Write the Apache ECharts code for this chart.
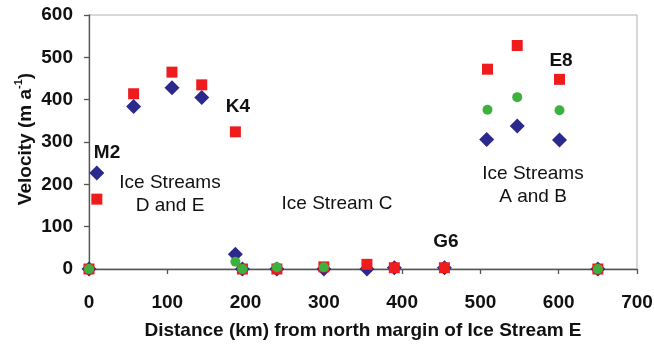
<!DOCTYPE html>
<html>
<head>
<meta charset="utf-8">
<script src="https://cdn.jsdelivr.net/npm/echarts@6/dist/echarts.min.js"></script>
<style>html,body{margin:0;padding:0;background:#fff}#c{width:654px;height:344px}</style>
</head>
<body>
<div id="c"></div>
<script>
const xTicks = [0, 100, 200, 300, 400, 500, 600, 700];
const yTicks = [0, 100, 200, 300, 400, 500, 600];

const blueX = [0, 10, 57, 106, 144, 187, 196, 240, 300, 355, 390, 454, 508, 547, 601, 650];
const blueY = [0, 227, 384, 428, 405, 35, 0, 0, 0, 0, 3, 3, 306, 338, 305, 0];

const redX = [0, 10, 57, 106, 144, 187, 196, 240, 300, 355, 390, 454, 509, 547, 601, 650];
const redY = [0, 165, 414, 465, 435, 324, 0, 0, 5, 11, 3, 3, 472, 528, 448, 0];

const greenX = [0, 187, 196, 240, 300, 509, 547, 601, 650];
const greenY = [0, 17, 0, 4, 4, 376, 406, 375, 0];

const xTitle = 'Distance (km) from north margin of Ice Stream E';

function pairs(xs, ys) { return xs.map((x, i) => [x, ys[i]]); }

const chart = echarts.init(document.getElementById('c'));
const F = 'Liberation Sans, Arial, sans-serif';
const grid = { left: 89, right: 17, top: 15, bottom: 75 };

chart.setOption({
  animation: false,
  grid: Object.assign({ show: true, borderColor: '#b0b0b0', borderWidth: 1, containLabel: false, outerBoundsMode: 'none' }, grid),
  xAxis: {
    type: 'value', min: 0, max: 700, interval: 100,
    axisLine: { show: true, lineStyle: { color: '#555', width: 1.3 } },
    axisTick: { show: true, length: 5, inside: false, lineStyle: { color: '#555', width: 1.3 } },
    splitLine: { show: false },
    axisLabel: { color: '#111', fontFamily: F, fontWeight: 'bold', fontSize: 19, margin: 24 },
    name: xTitle, nameLocation: 'middle', nameGap: 52,
    nameTextStyle: { color: '#111', fontFamily: F, fontWeight: 'bold', fontSize: 19 }
  },
  yAxis: {
    type: 'value', min: 0, max: 600, interval: 100,
    axisLine: { show: true, lineStyle: { color: '#555', width: 1.3 } },
    axisTick: { show: true, length: 5, inside: false, lineStyle: { color: '#555', width: 1.3 } },
    splitLine: { show: false },
    axisLabel: { color: '#111', fontFamily: F, fontWeight: 'bold', fontSize: 19, margin: 16 }
  },
  series: [
    { type: 'scatter', symbol: 'diamond', symbolSize: [15, 15], data: pairs(blueX, blueY),
      itemStyle: { color: '#2b2a8c', opacity: 1 } },
    { type: 'scatter', symbol: 'rect', symbolSize: 11, data: pairs(redX, redY),
      itemStyle: { color: '#ee1c1c', opacity: 1 } },
    { type: 'scatter', symbol: 'circle', symbolSize: 10, data: pairs(greenX, greenY),
      itemStyle: { color: '#3db03d', opacity: 1 } }
  ],
  graphic: [
    { type: 'text', x: 24, y: 139, rotation: Math.PI / 2,
      style: { text: '{a|Velocity (m a}{s|-1}{a|)}', align: 'center', verticalAlign: 'middle',
        rich: {
          a: { fontFamily: F, fontWeight: 'bold', fontSize: 19, fill: '#111', lineHeight: 22, verticalAlign: 'bottom' },
          s: { fontFamily: F, fontWeight: 'bold', fontSize: 11, fill: '#111', lineHeight: 22, verticalAlign: 'top' }
        } } },
    { type: 'text', x: 107, y: 153, style: { text: 'M2', align: 'center', verticalAlign: 'middle', font: 'bold 19px ' + F, fill: '#111' } },
    { type: 'text', x: 170, y: 183, style: { text: 'Ice Streams', align: 'center', verticalAlign: 'middle', font: '19px ' + F, fill: '#111' } },
    { type: 'text', x: 170, y: 206, style: { text: 'D and E', align: 'center', verticalAlign: 'middle', font: '19px ' + F, fill: '#111' } },
    { type: 'text', x: 238, y: 107, style: { text: 'K4', align: 'center', verticalAlign: 'middle', font: 'bold 19px ' + F, fill: '#111' } },
    { type: 'text', x: 337, y: 204, style: { text: 'Ice Stream C', align: 'center', verticalAlign: 'middle', font: '19px ' + F, fill: '#111' } },
    { type: 'text', x: 446, y: 242, style: { text: 'G6', align: 'center', verticalAlign: 'middle', font: 'bold 19px ' + F, fill: '#111' } },
    { type: 'text', x: 561, y: 61, style: { text: 'E8', align: 'center', verticalAlign: 'middle', font: 'bold 19px ' + F, fill: '#111' } },
    { type: 'text', x: 533, y: 174, style: { text: 'Ice Streams', align: 'center', verticalAlign: 'middle', font: '19px ' + F, fill: '#111' } },
    { type: 'text', x: 533, y: 197, style: { text: 'A and B', align: 'center', verticalAlign: 'middle', font: '19px ' + F, fill: '#111' } }
  ]
});
</script>
</body>
</html>
